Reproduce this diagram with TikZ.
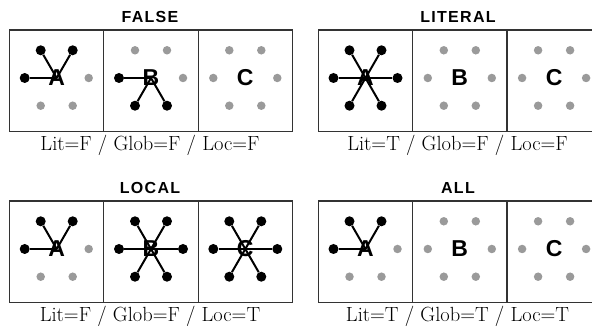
\documentclass[tikz,border=0pt]{standalone}
\usepackage{fontspec}
\newfontfamily\headfont[LetterSpace=8]{Liberation Sans}
\newfontfamily\cellfont{Liberation Sans}
\definecolor{dotgray}{HTML}{9A9A9A}
\definecolor{framegray}{HTML}{333333}
\tikzset{
  panelframe/.style={draw=framegray, line width=1.2pt},
  paneltitle/.style={anchor=base, inner sep=0pt, font=\headfont\bfseries\fontsize{16}{16}\selectfont},
  panellabel/.style={anchor=base, inner sep=0pt, font=\fontsize{20.5}{20.5}\selectfont},
  cellletter/.style={inner sep=0pt, font=\cellfont\bfseries\fontsize{23}{23}\selectfont},
  ondot/.style={circle, fill=black, inner sep=0pt, minimum size=10pt},
  offdot/.style={circle, fill=dotgray, inner sep=0pt, minimum size=8.5pt},
  spoke/.style={line width=2pt}
}
% one cell: #1 name, #2 x, #3 y, #4 letter, #5 black dots, #6 grey dots
% (angles: 0 right, 60 lower right, ..., 300 upper right)
\newcommand{\hexcell}[6]{%
  \node[cellletter] (#1) at (#2,#3) {#4};
  \if\relax\detokenize{#6}\relax\else
    \foreach \a in {#6} \node[offdot] (#1-\a) at ([shift={(\a:\hexr)}]#1) {};
  \fi
  \if\relax\detokenize{#5}\relax\else
    \foreach \a in {#5} {
      \node[ondot] (#1-\a) at ([shift={(\a:\hexr)}]#1) {};
      \draw[spoke] (#1-\a) -- (#1.center);
    }
  \fi
}
\begin{document}
\begin{tikzpicture}[x=1pt, y=-1pt]
  \clip (0,0) rectangle (592,328);
  % Mesures des cases
  \def\cw{94.3}
  \def\ch{101.7}
  \def\hexr{32}
  % Cadres (rangee du haut)
  \draw[panelframe] (9.5,30) rectangle ++(3*\cw,\ch);
  \draw[panelframe] (9.5+\cw,30) -- ++(0,\ch) (9.5+2*\cw,30) -- ++(0,\ch);
  \draw[panelframe] (318.3,30) rectangle ++(3*\cw,\ch);
  \draw[panelframe] (318.3+\cw,30) -- ++(0,\ch) (318.3+2*\cw,30) -- ++(0,\ch);
  % Cadres (rangee du bas)
  \draw[panelframe] (9.5,201) rectangle ++(3*\cw,\ch);
  \draw[panelframe] (9.5+\cw,201) -- ++(0,\ch) (9.5+2*\cw,201) -- ++(0,\ch);
  \draw[panelframe] (318.3,201) rectangle ++(3*\cw,\ch);
  \draw[panelframe] (318.3+\cw,201) -- ++(0,\ch) (318.3+2*\cw,201) -- ++(0,\ch);
  % FALSE
  \node[paneltitle] (t-false) at (150,22.7) {FALSE};
  \hexcell{fa}{56.7}{78}{A}{180,240,300}{0,60,120}
  \hexcell{fb}{151}{78}{B}{180,120,60}{0,240,300}
  \hexcell{fc}{245.3}{78}{C}{}{0,60,120,180,240,300}
  \node[panellabel] (l-false) at (150,150.3) {Lit=F / Glob=F / Loc=F};
  % LITERAL
  \node[paneltitle] (t-literal) at (458,22.7) {LITERAL};
  \hexcell{la}{365.5}{78}{A}{0,60,120,180,240,300}{}
  \hexcell{lb}{459.8}{78}{B}{}{0,60,120,180,240,300}
  \hexcell{lc}{554.1}{78}{C}{}{0,60,120,180,240,300}
  \node[panellabel] (l-literal) at (457.5,150.3) {Lit=T / Glob=F / Loc=F};
  % LOCAL
  \node[paneltitle] (t-local) at (150,193.5) {LOCAL};
  \hexcell{ca}{56.7}{249}{A}{180,240,300}{0,60,120}
  \hexcell{cb}{151}{249}{B}{0,60,120,180,240,300}{}
  \hexcell{cc}{245.3}{249}{C}{0,60,120,180,240,300}{}
  \node[panellabel] (l-local) at (150,321.3) {Lit=F / Glob=F / Loc=T};
  % ALL
  \node[paneltitle] (t-all) at (458,193.5) {ALL};
  \hexcell{aa}{365.5}{249}{A}{180,240,300}{0,60,120}
  \hexcell{ab}{459.8}{249}{B}{}{0,60,120,180,240,300}
  \hexcell{ac}{554.1}{249}{C}{}{0,60,120,180,240,300}
  \node[panellabel] (l-all) at (457.5,321.3) {Lit=T / Glob=T / Loc=T};
\end{tikzpicture}
\end{document}
